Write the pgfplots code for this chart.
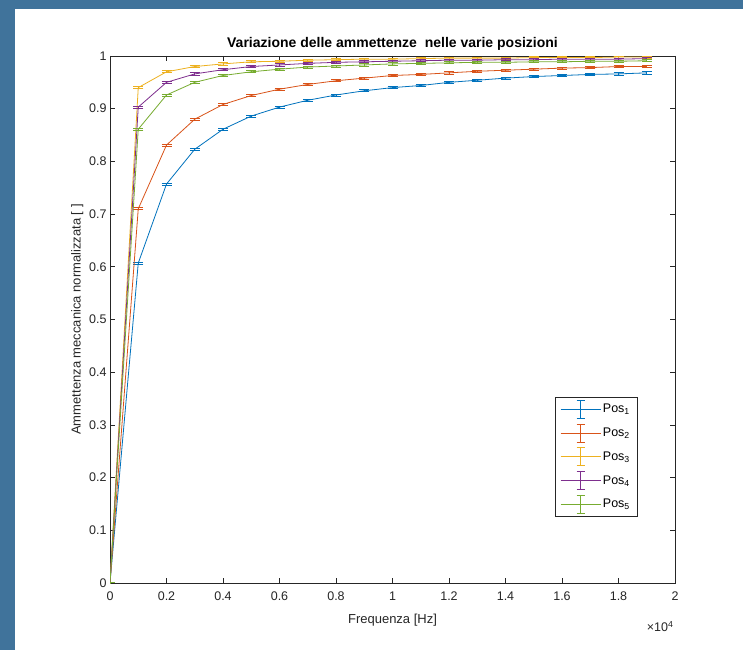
\documentclass[border=0pt]{standalone}
\usepackage{pgfplots}
\usepackage{pgfplotstable}
\pgfplotsset{compat=1.18}
\usepackage{fontspec}
\setmainfont{Liberation Sans}
\definecolor{bgblue}{RGB}{64,115,155}
\definecolor{mblue}{rgb}{0,0.447,0.741}
\definecolor{morange}{rgb}{0.85,0.325,0.098}
\definecolor{myellow}{rgb}{0.929,0.694,0.125}
\definecolor{mpurple}{rgb}{0.494,0.184,0.556}
\definecolor{mgreen}{rgb}{0.466,0.674,0.188}
\definecolor{axgray}{rgb}{0.15,0.15,0.15}
\pgfplotstableread{
x p1 p2 p3 p4 p5
0 0 0 0 0 0
1000 0.607 0.710 0.940 0.903 0.861
2000 0.757 0.831 0.970 0.950 0.926
3000 0.823 0.880 0.980 0.966 0.950
4000 0.861 0.908 0.985 0.974 0.963
5000 0.886 0.925 0.989 0.980 0.970
6000 0.903 0.937 0.990 0.983 0.975
7000 0.916 0.946 0.992 0.986 0.979
8000 0.926 0.953 0.993 0.988 0.981
9000 0.934 0.958 0.994 0.989 0.983
10000 0.940 0.963 0.994 0.990 0.985
11000 0.944 0.965 0.995 0.991 0.986
12000 0.950 0.968 0.996 0.992 0.987
13000 0.954 0.971 0.996 0.992 0.988
14000 0.958 0.973 0.996 0.993 0.988
15000 0.961 0.975 0.997 0.993 0.989
16000 0.963 0.977 0.997 0.994 0.989
17000 0.965 0.978 0.997 0.994 0.990
18000 0.966 0.980 0.998 0.994 0.990
19000 0.968 0.980 0.998 0.995 0.991
}\datatable
\pgfplotsset{
  ebar/.style={#1, error bars/.cd, y dir=both, y fixed=0.002,
    error bar style={draw=#1, line width=0.8pt},
    error mark options={draw=#1, rotate=90, mark size=5pt, line width=0.8pt}},
}
\begin{document}
\begin{tikzpicture}
\path[use as bounding box] (0,0) rectangle (743pt,650pt);
\fill[bgblue] (0,0) rectangle (743pt,650pt);
\fill[white] (15pt,0) rectangle (743pt,641pt);
\begin{axis}[
  at={(110pt,67pt)}, anchor=south west,
  scale only axis, width=565pt, height=527pt,
  xmin=0, xmax=20000, ymin=0, ymax=1,
  xtick distance=2000, ytick distance=0.1,
  scaled x ticks=base 10:-4,
  xtick scale label code/.code={×10\textsuperscript{4}},
  every x tick scale label/.style={at={(xticklabel cs:1)},anchor=north east,yshift=-9pt,xshift=2pt,font=\fontsize{12.5}{14}\selectfont, text=axgray},
  /pgf/number format/assume math mode=true,
  /pgf/number format/fixed,
  tick pos=both, tick align=inside,
  major tick length=5pt,
  axis line style={axgray, line width=0.6pt},
  every tick/.style={axgray, line width=0.6pt},
  tick label style={font=\fontsize{12.5}{14}\selectfont, text=axgray},
  xticklabel style={yshift=-5pt},
  label style={font=\fontsize{13}{15}\selectfont, text=axgray},
  title style={font=\bfseries\fontsize{14}{16}\selectfont, yshift=-4pt},
  title={Variazione delle ammettenze\ \ nelle varie posizioni},
  xlabel={Frequenza [Hz]},
  ylabel={Ammettenza meccanica normalizzata [ ]},
  xlabel style={yshift=-7pt},
  ylabel style={yshift=-1pt},
  legend style={at={(0.933,0.353)}, anchor=north east, draw=axgray, line width=0.6pt,
     font=\fontsize{12.5}{14}\selectfont, row sep=5pt, inner xsep=5pt, inner ysep=2.5pt},
  legend cell align=left,
  legend image code/.code={
    \draw[#1] (0pt,0pt) -- (40pt,0pt);
    \draw[#1] (20pt,-9pt) -- (20pt,9pt);
    \draw[#1] (16pt,9pt) -- (24pt,9pt);
    \draw[#1] (16pt,-9pt) -- (24pt,-9pt);
  },
  every axis plot/.append style={line width=0.8pt, mark=none},
]
\addplot[ebar=mblue] table[x=x,y=p1] {\datatable};
\addplot[ebar=morange] table[x=x,y=p2] {\datatable};
\addplot[ebar=myellow] table[x=x,y=p3] {\datatable};
\addplot[ebar=mpurple] table[x=x,y=p4] {\datatable};
\addplot[ebar=mgreen] table[x=x,y=p5] {\datatable};
\legend{Pos\textsubscript{1},Pos\textsubscript{2},Pos\textsubscript{3},Pos\textsubscript{4},Pos\textsubscript{5}}
\end{axis}
\end{tikzpicture}
\end{document}
